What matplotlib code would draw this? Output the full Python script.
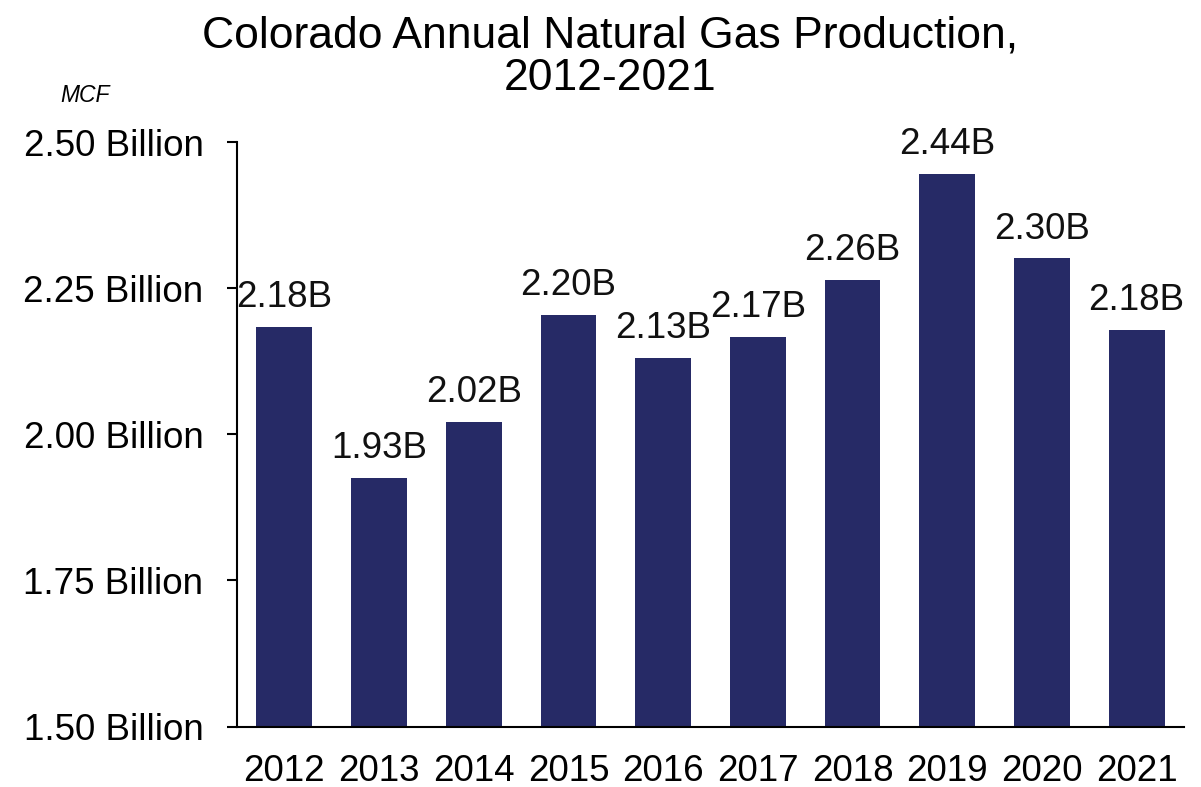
import matplotlib
matplotlib.use("Agg")
import matplotlib.pyplot as plt
import numpy as np

years = ["2012", "2013", "2014", "2015", "2016", "2017", "2018", "2019", "2020", "2021"]
production_bn = [2.183, 1.925, 2.021, 2.204, 2.130, 2.166, 2.264, 2.445, 2.301, 2.178]
labels = ["2.18B", "1.93B", "2.02B", "2.20B", "2.13B", "2.17B", "2.26B", "2.44B", "2.30B", "2.18B"]
yticks = [1.50, 1.75, 2.00, 2.25, 2.50]
ytick_labels = ["1.50 Billion", "1.75 Billion", "2.00 Billion", "2.25 Billion", "2.50 Billion"]

plt.rcParams['font.family'] = ['Liberation Sans', 'DejaVu Sans']

fig = plt.figure(figsize=(12.01, 7.87), dpi=100)
ax = fig.add_axes([237/1201, 1-726.5/787, (1184-237)/1201, (726.5-142)/787])

x = np.arange(len(years))
bars = ax.bar(x, production_bn, width=0.59, color='#262A66', zorder=2)
for xi, v, lab in zip(x, production_bn, labels):
    ax.annotate(lab, (xi, v), xytext=(0, 8.5), textcoords='offset points',
                ha='center', va='bottom', fontsize=26.5, color='#111111')

ax.set_xlim(-0.5, 9.5)
ax.set_ylim(1.5, 2.5)
ax.set_xticks(x)
ax.set_xticklabels(years)
ax.set_yticks(yticks)
ax.set_yticklabels(ytick_labels)
ax.tick_params(axis='x', length=0, pad=20, labelsize=26.5)
ax.tick_params(axis='y', length=7.2, width=1.5, pad=17, labelsize=26.5)
for s in ['top', 'right']:
    ax.spines[s].set_visible(False)
for s in ['left', 'bottom']:
    ax.spines[s].set_linewidth(1.5)
    ax.spines[s].set_color('black')

fig.text(610/1201, 1-57/787, "Colorado Annual Natural Gas Production,\n2012-2021",
         ha='center', va='center', fontsize=32, linespacing=1.06)
fig.text(85/1201, 1-95/787, "MCF", ha='center', va='center', fontsize=16.5, style='italic')

fig.savefig("out.png", dpi=100)
